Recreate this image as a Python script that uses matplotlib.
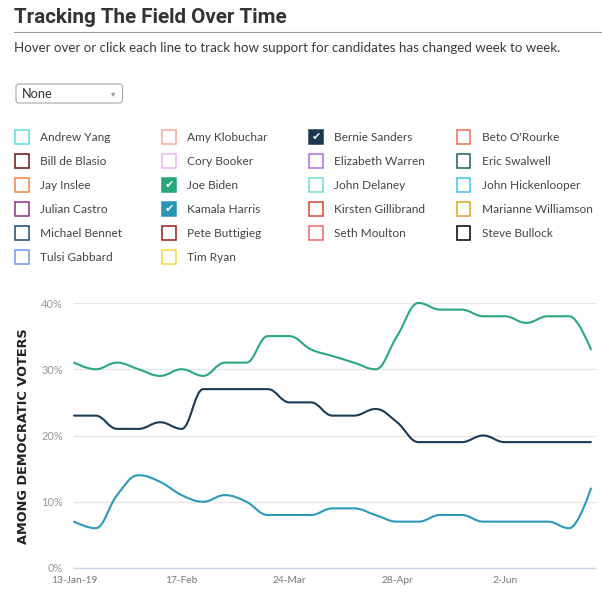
import numpy as np
import pandas as pd
import matplotlib
matplotlib.use("Agg")
import matplotlib.pyplot as plt
import matplotlib.dates as mdates
from matplotlib.path import Path
from matplotlib.patches import PathPatch, Rectangle, FancyBboxPatch
from matplotlib.transforms import Affine2D
from matplotlib.lines import Line2D

W, H = 602, 595

# weekly poll readings (percent of democratic voters)
weeks = pd.date_range("2019-01-13", periods=25, freq="7D")
biden = [31, 30, 31, 30, 29, 30, 29, 31, 31, 35, 35, 33, 32, 31, 30, 35, 40, 39, 39, 38, 38, 37, 38, 38, 33]
sanders = [23, 23, 21, 21, 22, 21, 27, 27, 27, 27, 25, 25, 23, 23, 24, 22, 19, 19, 19, 20, 19, 19, 19, 19, 19]
harris = [7, 6, 11, 14, 13, 11, 10, 11, 10, 8, 8, 8, 9, 9, 8, 7, 7, 8, 8, 7, 7, 7, 7, 6, 12]

tick_dates = ["2019-01-13", "2019-02-17", "2019-03-24", "2019-04-28", "2019-06-02"]
tick_labels = ["13-Jan-19", "17-Feb", "24-Mar", "28-Apr", "2-Jun"]
y_ticks = [0, 10, 20, 30, 40]

# legend grid, row by row
names = ["Andrew Yang", "Amy Klobuchar", "Bernie Sanders", "Beto O'Rourke",
         "Bill de Blasio", "Cory Booker", "Elizabeth Warren", "Eric Swalwell",
         "Jay Inslee", "Joe Biden", "John Delaney", "John Hickenlooper",
         "Julian Castro", "Kamala Harris", "Kirsten Gillibrand", "Marianne Williamson",
         "Michael Bennet", "Pete Buttigieg", "Seth Moulton", "Steve Bullock",
         "Tulsi Gabbard", "Tim Ryan"]
colors = ["#55e3dc", "#f6a99a", "#1b3752", "#f26c52",
          "#6a1212", "#efb3ee", "#b36ae6", "#1b625e",
          "#f2823f", "#27a67a", "#6fe3c6", "#3cc5f3",
          "#8b2f8c", "#2a94b6", "#d8432f", "#d9a823",
          "#1a4a70", "#9b1d12", "#f0646b", "#000000",
          "#6a98ee", "#f8d63e"]
checked = ["Bernie Sanders", "Joe Biden", "Kamala Harris"]

plt.rcParams["font.family"] = ["Lato", "DejaVu Sans"]


def spline_path(x, y):
    # same smoothing as a highcharts "spline" series
    n = len(x)
    lc = [None] * n
    rc = [None] * n
    sm = 1.5
    den = sm + 1
    for i in range(1, n - 1):
        px, py = x[i], y[i]
        lx, ly = x[i - 1], y[i - 1]
        nx, ny = x[i + 1], y[i + 1]
        lcx = (sm * px + lx) / den
        lcy = (sm * py + ly) / den
        rcx = (sm * px + nx) / den
        rcy = (sm * py + ny) / den
        corr = (rcy - lcy) * (rcx - px) / (rcx - lcx) + py - rcy
        lcy += corr
        rcy += corr
        if lcy > ly and lcy > py:
            lcy = max(ly, py)
            rcy = 2 * py - lcy
        elif lcy < ly and lcy < py:
            lcy = min(ly, py)
            rcy = 2 * py - lcy
        if rcy > ny and rcy > py:
            rcy = max(ny, py)
            lcy = 2 * py - rcy
        elif rcy < ny and rcy < py:
            rcy = min(ny, py)
            lcy = 2 * py - rcy
        lc[i] = (lcx, lcy)
        rc[i] = (rcx, rcy)
    verts = [(x[0], y[0])]
    codes = [Path.MOVETO]
    for i in range(1, n):
        c1 = rc[i - 1] if rc[i - 1] else (x[i - 1], y[i - 1])
        c2 = lc[i] if lc[i] else (x[i], y[i])
        verts += [c1, c2, (x[i], y[i])]
        codes += [Path.CURVE4] * 3
    return Path(verts, codes)


fig = plt.figure(figsize=(W / 100, H / 100), dpi=100)
T = Affine2D().scale(1, -1).translate(0, H)  # pixel coords, origin top-left

# header
fig.text(14, 23.3, "Tracking The Field Over Time", transform=T, va="baseline",
         family=["Liberation Sans Narrow", "Roboto"], weight="bold", size=14.9, color="#333333")
fig.add_artist(Line2D([14, 602], [32.3, 32.3], transform=T, color="#9a9a9a", lw=0.8))
fig.text(14, 52.3, "Hover over or click each line to track how support for candidates has changed week to week.",
         transform=T, va="baseline", size=9.6, color="#3a3a3a")

# dropdown
fig.add_artist(FancyBboxPatch((16, 84), 106.5, 19, boxstyle="round,pad=0,rounding_size=3",
                              transform=T, ec="#a8a8a8", fc="white", lw=0.8))
fig.text(22, 93.8, "None", transform=T, va="center", size=9.2, color="#333333")
fig.text(113, 94, "\u25be", transform=T, va="center", ha="center", size=6,
         family="DejaVu Sans", color="#999999")

# legend checkboxes
box_x = [15.3, 162.3, 309.3, 456.7]
for k, (nm, c) in enumerate(zip(names, colors)):
    r, col = divmod(k, 4)
    bx = box_x[col]
    cy = 137 + 24 * r
    on = nm in checked
    fig.add_artist(Rectangle((bx, cy - 7), 13.5, 13.5, transform=T, ec=c,
                             fc=c if on else "white", lw=1.1))
    if on:
        fig.text(bx + 6.8, cy - 0.2, "\u2714", transform=T, ha="center", va="center",
                 family="DejaVu Sans", size=8, color="white")
    fig.text(bx + 25, cy + 0.8, nm, transform=T, va="center", size=8.6, color="#444444")

# chart
ax = fig.add_axes([74 / W, 1 - 568 / H, (595.5 - 74) / W, (568 - 303) / H])
xs = mdates.date2num(weeks)
for vals, c in [(biden, "#2aa97e"), (sanders, "#1c3a56"), (harris, "#2b9aba")]:
    ax.add_patch(PathPatch(spline_path(xs, vals), fill=False, ec=c, lw=1.5,
                           clip_on=False, capstyle="round", joinstyle="round"))

ax.set_xlim(xs[0], xs[-1] + 1.5)
ax.set_ylim(0, 40)
ax.set_yticks(y_ticks)
ax.set_yticklabels([f"{v}%" for v in y_ticks])
ax.set_xticks(mdates.date2num(pd.to_datetime(tick_dates)))
ax.set_xticklabels(tick_labels)
ax.tick_params(axis="y", length=0, pad=8, labelsize=8, labelcolor="#999999")
ax.tick_params(axis="x", length=0, pad=5.8, labelsize=7.3, labelcolor="#777777")
ax.yaxis.grid(True, color="#e6e6e6", lw=1)
ax.set_axisbelow(True)
for s in ["top", "left", "right"]:
    ax.spines[s].set_visible(False)
ax.spines["bottom"].set_color("#ccd6eb")
ax.spines["bottom"].set_linewidth(1)

fig.text(23.3, 435.7, "AMONG DEMOCRATIC VOTERS", transform=T, rotation=90, ha="center", va="center",
         family="DejaVu Sans", weight="bold", size=9.3, color="#222222")

fig.savefig("out.png", dpi=100)
